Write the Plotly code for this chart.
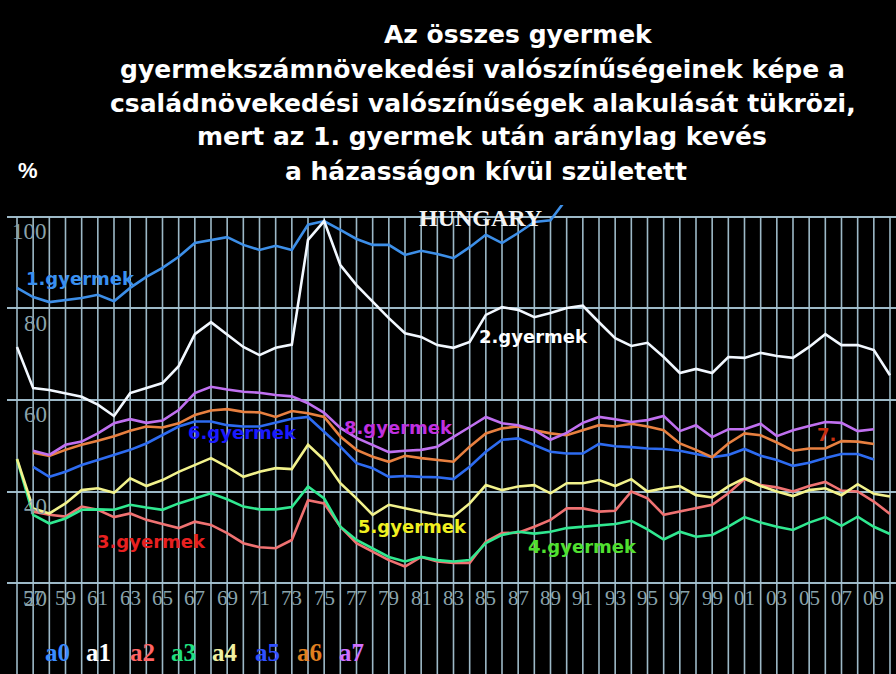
import plotly.graph_objects as go

# ---------------- data ----------------
years = list(range(1956, 2011))

a0 = [84.5, 82.5, 81.4, 81.9, 82.3, 83.0, 81.6, 84.5, 86.9, 88.9,
      91.3, 94.3, 95.0, 95.6, 93.9, 92.8, 93.7, 92.8, 98.3, 99.1,
      97.2, 95.2, 93.9, 93.9, 91.7, 92.6, 91.9, 91.0, 93.4, 96.1,
      94.3, 96.5, 98.9, 99.3, 104.0] + [None] * 20

a1 = [71.6, 62.6, 62.2, 61.5, 60.7, 59.0, 56.5, 61.5, 62.6, 63.7,
      67.4, 74.4, 77.0, 74.2, 71.6, 69.8, 71.4, 72.1, 95.0, 99.1,
      89.5, 85.1, 81.4, 77.9, 74.6, 73.8, 72.0, 71.4, 72.7, 78.6,
      80.3, 79.7, 78.1, 79.0, 80.1, 80.6, 77.0, 73.5, 71.8, 72.5,
      69.4, 65.9, 66.8, 65.9, 69.4, 69.2, 70.3, 69.6, 69.2, 71.6,
      74.4, 72.0, 72.0, 70.9, 65.4]

a2 = [None, 35.6, 34.9, 34.5, 36.7, 36.0, 34.4, 35.2, 33.8, 32.9,
      32.0, 33.4, 32.7, 30.9, 28.7, 27.8, 27.6, 29.4, 38.1, 37.4,
      32.3, 28.7, 26.8, 25.0, 23.6, 25.7, 24.7, 24.4, 24.4, 29.0,
      30.9, 31.0, 32.3, 33.8, 36.3, 36.3, 35.6, 35.8, 40.0, 38.5,
      34.9, 35.6, 36.3, 37.1, 39.6, 42.7, 41.4, 40.9, 40.0, 41.2,
      42.1, 40.2, 40.0, 37.8, 35.1]

a3 = [47.0, 34.9, 33.0, 34.1, 36.0, 36.1, 36.0, 37.1, 36.5, 36.0,
      37.4, 38.5, 39.6, 38.3, 36.7, 36.1, 36.1, 36.6, 41.1, 38.5,
      32.3, 29.4, 27.6, 25.7, 24.7, 25.7, 25.0, 24.7, 25.0, 28.7,
      30.5, 31.2, 30.8, 31.2, 32.0, 32.3, 32.5, 32.9, 33.6, 31.7,
      29.5, 31.2, 30.1, 30.5, 32.3, 34.4, 33.2, 32.3, 31.6, 33.2,
      34.4, 32.5, 34.5, 32.3, 30.7]

a4 = [47.1, 36.3, 35.2, 37.4, 40.3, 40.7, 39.7, 42.9, 41.2, 42.5,
      44.3, 45.8, 47.3, 45.4, 43.2, 44.3, 45.1, 44.9, 50.2, 46.9,
      41.8, 38.5, 34.9, 37.1, 36.3, 35.6, 34.9, 34.5, 37.4, 41.4,
      40.3, 41.1, 41.4, 39.6, 41.8, 41.8, 42.5, 41.2, 42.7, 40.0,
      40.7, 41.2, 39.2, 38.7, 41.1, 42.9, 41.2, 40.0, 39.0, 40.3,
      40.7, 39.2, 41.6, 39.5, 38.9]

a5 = [None, 45.4, 43.2, 44.3, 45.8, 46.9, 48.0, 49.1, 50.5, 52.3,
      54.2, 55.3, 55.3, 54.5, 54.2, 54.2, 55.0, 55.9, 56.3, 53.1,
      49.8, 46.2, 45.1, 43.2, 43.4, 43.2, 43.1, 42.7, 45.4, 48.7,
      51.3, 51.6, 50.2, 48.7, 48.3, 48.3, 50.4, 49.9, 49.7, 49.4,
      49.3, 48.9, 48.2, 47.5, 48.0, 49.3, 47.8, 46.9, 45.6, 46.3,
      47.3, 48.2, 48.2, 47.0, None]

a6 = [None, 48.5, 47.8, 49.1, 50.2, 51.1, 52.1, 53.3, 54.2, 54.0,
      54.9, 56.7, 57.7, 58.0, 57.4, 57.3, 56.3, 57.6, 57.1, 56.3,
      52.0, 49.1, 47.6, 46.5, 47.8, 47.3, 46.9, 46.5, 49.8, 52.7,
      53.8, 54.2, 53.4, 52.7, 52.3, 53.4, 54.5, 54.2, 54.8, 54.2,
      53.4, 50.5, 49.1, 47.5, 50.5, 52.7, 52.3, 50.7, 48.9, 49.4,
      49.4, 51.0, 50.9, 50.4, None]

a7 = [None, 48.9, 48.0, 50.2, 50.9, 52.7, 54.9, 55.8, 55.0, 55.5,
      57.8, 61.5, 62.9, 62.3, 61.8, 61.6, 61.1, 60.8, 59.3, 57.2,
      53.9, 51.7, 50.2, 48.6, 48.9, 49.1, 49.8, 51.9, 54.1, 56.3,
      54.9, 54.5, 53.4, 51.3, 52.8, 55.0, 56.3, 55.8, 55.2, 55.6,
      56.5, 53.2, 54.5, 51.9, 53.6, 53.6, 54.8, 52.1, 53.4, 54.3,
      55.2, 55.0, 53.2, 53.6, None]

series_names = ["a0", "a1", "a2", "a3", "a4", "a5", "a6", "a7"]
line_colors = ["#3d8fe8", "#f2f8ff", "#f07272", "#30e890",
               "#f2f28c", "#2d6bf0", "#e88040", "#c070f0"]
legend_colors = ["#3c8cff", "#ffffff", "#ff6464", "#20e080",
                 "#f0f0a0", "#3050ff", "#e08020", "#d070ff"]

ytick_vals = [20, 40, 60, 80, 100]
xtick_years = list(range(1957, 2010, 2))
xtick_text = [str(y)[2:] for y in xtick_years]

title_lines = ["Az összes gyermek",
               "gyermekszámnövekedési valószínűségeinek képe a",
               "családnövekedési valószínűségek alakulását tükrözi,",
               "mert az 1. gyermek után aránylag kevés",
               "a házasságon kívül született"]

label_texts = ["1.gyermek", "2.gyermek", "3.gyermek", "4.gyermek",
               "5.gyermek", "6.gyermek", "7.", "8.gyermek"]
label_colors = ["#3a90f0", "#ffffff", "#e82020", "#50e030",
                "#f0f020", "#1a1aff", "#c83010", "#c030e0"]

# ---------------- layout geometry ----------------
W, H = 896, 674
L, R, T, B = 7, 0, 205, 0
PW, PH = W - L - R, H - T - B


def px(x, y):
    return (x - L) / PW, (H - B - y) / PH


x_range = [1956 - 10 / 16.17, 2010 + 6 / 16.17]
y_range = [0.11, 102.62]
GRID = "rgba(165,195,210,0.95)"

fig = go.Figure()
for name, vals, col in zip(series_names, [a0, a1, a2, a3, a4, a5, a6, a7], line_colors):
    fig.add_trace(go.Scatter(x=years, y=vals, mode="lines", name=name,
                             line=dict(color=col, width=2.6), connectgaps=False,
                             showlegend=False))

shapes = []
for yr in years:
    shapes.append(dict(type="line", xref="x", yref="y", x0=yr, x1=yr,
                       y0=y_range[0], y1=100, layer="below",
                       line=dict(color=GRID, width=1.6)))

ann = []


def add_px(text, x, y, font, xanchor="center"):
    xp, yp = px(x, y)
    ann.append(dict(text=text, x=xp, y=yp, xref="paper", yref="paper",
                    xanchor=xanchor, yanchor="middle", showarrow=False, font=font))


# title
title_pos = [(518, 34), (482, 69), (483, 103), (482, 137), (486, 172)]
for txt, (x, y) in zip(title_lines, title_pos):
    add_px("<b>" + txt + "</b>", x, y,
           dict(family="DejaVu Sans", size=25, color="white"))
add_px("<b>%</b>", 28, 170, dict(family="Liberation Sans", size=22, color="white"))

# HUNGARY
add_px("<b>HUNGARY</b>", 480, 218,
       dict(family="Liberation Serif", size=24, color="#f4f4f4"))

# y tick labels
for v in ytick_vals:
    xp, _ = px(49, 0)
    ann.append(dict(text=str(v), x=xp, y=v, xref="paper", yref="y",
                    xanchor="right", yanchor="middle", yshift=-15, showarrow=False,
                    font=dict(family="Liberation Serif", size=23, color="#8aa3ab")))

# x tick labels
for yr, t in zip(xtick_years, xtick_text):
    ann.append(dict(text=t, x=yr, y=16.7, xref="x", yref="y",
                    xanchor="center", yanchor="middle", showarrow=False,
                    font=dict(family="Liberation Serif", size=21, color="#8aa3ab")))

# legend-like labels
leg_x = [57, 98, 142, 183, 225, 267, 309, 351]
for name, col, x in zip(series_names, legend_colors, leg_x):
    add_px("<b>" + name + "</b>", x, 652,
           dict(family="Liberation Serif", size=25, color=col))

# series labels
lab_pos = [(80, 278), (533, 336), (151, 541), (582, 546),
           (412, 526), (242, 432), (826, 434), (398, 427)]
for txt, col, (x, y) in zip(label_texts, label_colors, lab_pos):
    add_px("<b>" + txt + "</b>", x, y,
           dict(family="DejaVu Sans", size=18, color=col))

fig.update_layout(
    width=W, height=H,
    margin=dict(l=L, r=R, t=T, b=B, pad=0),
    paper_bgcolor="black", plot_bgcolor="black",
    shapes=shapes, annotations=ann,
    xaxis=dict(range=x_range, showgrid=False, zeroline=False,
               showticklabels=False, ticks="", showline=False),
    yaxis=dict(range=y_range, tickvals=ytick_vals, showgrid=True,
               gridcolor=GRID, gridwidth=1.8, zeroline=False,
               showticklabels=False, ticks="", showline=False),
)

fig.write_html("out.html",
               config={"displayModeBar": False},
               post_script="document.body.style.margin='0';"
                           "document.body.style.background='black';")
